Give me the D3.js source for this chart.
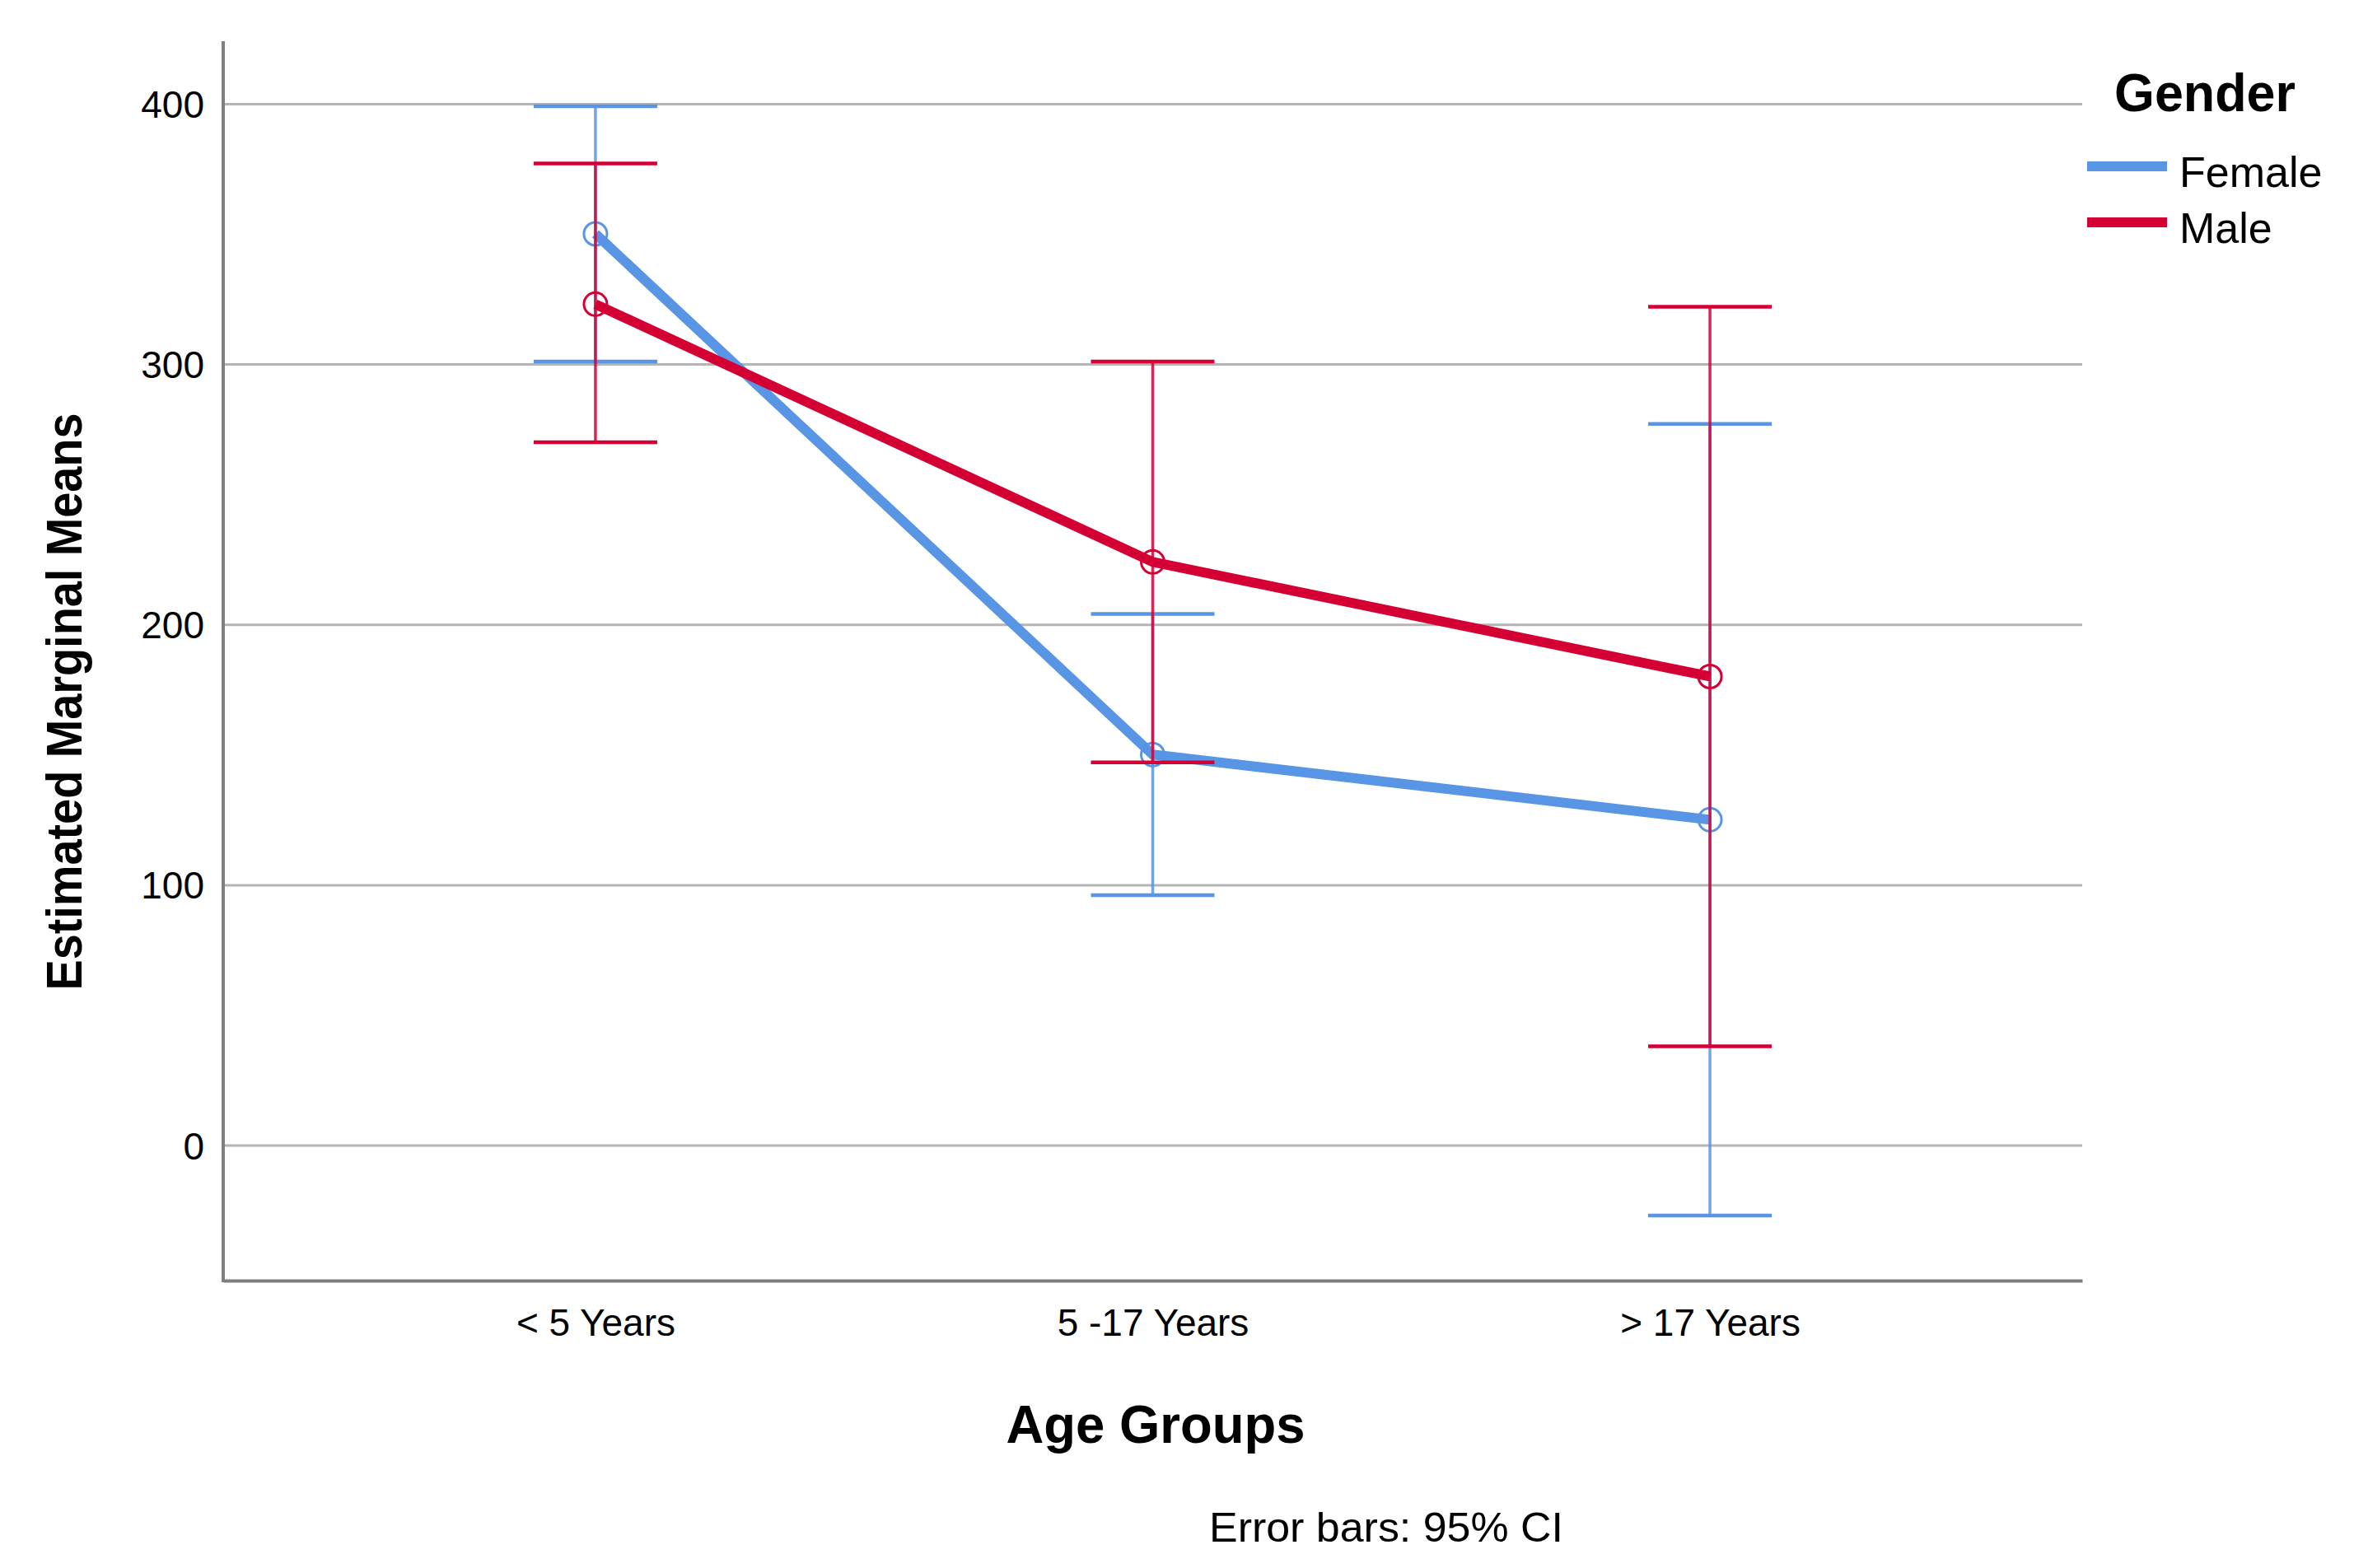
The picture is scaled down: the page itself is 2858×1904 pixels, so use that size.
<!DOCTYPE html>
<html lang="en">
<head>
    <meta charset="UTF-8">
    <title>Estimated Marginal Means</title>
    <style>
        body { margin: 0; background: #fff; }
        text { font-family: "Liberation Sans", Arial, sans-serif; fill: #000; }
    </style>
</head>
<body>
    <script src="https://cdn.jsdelivr.net/npm/d3@7"></script>
    <svg id="mysvg" width="2858" height="1904"></svg>
    <script>
        // data
        var categories = ['< 5 Years', '5 -17 Years', '> 17 Years'];
        var femaleMean = [350, 150, 125];
        var femaleLow = [301, 96, -27];
        var femaleHigh = [399, 204, 277];
        var maleMean = [323, 224, 180];
        var maleLow = [270, 147, 38];
        var maleHigh = [377, 301, 322];
        var yTicks = [0, 100, 200, 300, 400];

        var series = [
            {name: 'Female', color: '#5895e4', mean: femaleMean, low: femaleLow, high: femaleHigh},
            {name: 'Male', color: '#d40034', mean: maleMean, low: maleLow, high: maleHigh}
        ];

        // plot box (window.top is read-only, so no "top" here)
        var plotLeft = 271, plotRight = 2528, plotTop = 50, plotBottom = 1555;

        var svg = d3.select('#mysvg');

        var x = d3.scalePoint().domain(categories).range([plotLeft, plotRight]).padding(0.668);
        var y = d3.scaleLinear().domain([-52, 424]).range([plotBottom, plotTop]);

        // gridlines + y labels
        var yAxis = svg.append('g')
            .attr('transform', 'translate(' + plotLeft + ',0)')
            .call(d3.axisLeft(y).tickValues(yTicks).tickSize(-(plotRight - plotLeft)).tickPadding(23));
        yAxis.select('.domain').remove();
        yAxis.selectAll('.tick line').attr('stroke', '#b4b4b4').attr('stroke-width', 3);
        yAxis.selectAll('.tick text')
            .attr('font-size', 46)
            .attr('dy', '0.36em')
            .style('font-family', '"Liberation Sans", Arial, sans-serif');

        // x axis
        var xAxis = svg.append('g')
            .attr('transform', 'translate(0,' + plotBottom + ')')
            .call(d3.axisBottom(x).tickSize(0).tickSizeOuter(0).tickPadding(34));
        xAxis.select('.domain').attr('stroke', '#7f7f7f').attr('stroke-width', 4);
        xAxis.selectAll('.tick text')
            .attr('font-size', 46)
            .style('font-family', '"Liberation Sans", Arial, sans-serif');

        // y axis line
        svg.append('line')
            .attr('x1', plotLeft).attr('x2', plotLeft)
            .attr('y1', plotTop).attr('y2', plotBottom + 2)
            .attr('stroke', '#7f7f7f').attr('stroke-width', 4);

        var line = d3.line()
            .x(function(d, i) { return x(categories[i]); })
            .y(function(d) { return y(d); });

        var capHalf = 75;

        series.forEach(function(s) {
            var g = svg.append('g');

            // error bars
            categories.forEach(function(c, i) {
                var cx = x(c);
                g.append('line')
                    .attr('x1', cx).attr('x2', cx)
                    .attr('y1', y(s.low[i])).attr('y2', y(s.high[i]))
                    .attr('stroke', s.color).attr('stroke-width', 3.5).attr('stroke-opacity', 0.85);
                [s.low[i], s.high[i]].forEach(function(v) {
                    g.append('line')
                        .attr('x1', cx - capHalf).attr('x2', cx + capHalf)
                        .attr('y1', y(v)).attr('y2', y(v))
                        .attr('stroke', s.color).attr('stroke-width', 4.5);
                });
            });

            g.append('path')
                .datum(s.mean)
                .attr('d', line)
                .attr('fill', 'none')
                .attr('stroke', s.color)
                .attr('stroke-width', 12);

            g.selectAll('circle')
                .data(s.mean)
                .enter().append('circle')
                .attr('cx', function(d, i) { return x(categories[i]); })
                .attr('cy', function(d) { return y(d); })
                .attr('r', 14)
                .attr('fill', 'none')
                .attr('stroke', s.color)
                .attr('stroke-width', 3);
        });

        // titles
        svg.append('text')
            .attr('transform', 'translate(99,852) rotate(-90)')
            .attr('text-anchor', 'middle')
            .attr('font-size', 62)
            .attr('font-weight', 'bold')
            .attr('textLength', 701)
            .attr('lengthAdjust', 'spacingAndGlyphs')
            .text('Estimated Marginal Means');

        svg.append('text')
            .attr('x', 1403).attr('y', 1752)
            .attr('text-anchor', 'middle')
            .attr('font-size', 64)
            .attr('font-weight', 'bold')
            .attr('textLength', 363)
            .attr('lengthAdjust', 'spacingAndGlyphs')
            .text('Age Groups');

        svg.append('text')
            .attr('x', 1468).attr('y', 1872)
            .attr('font-size', 50)
            .attr('textLength', 430)
            .attr('lengthAdjust', 'spacingAndGlyphs')
            .text('Error bars: 95% CI');

        // legend
        var legend = svg.append('g');
        legend.append('text')
            .attr('x', 2567).attr('y', 135)
            .attr('font-size', 64)
            .attr('font-weight', 'bold')
            .attr('textLength', 220)
            .attr('lengthAdjust', 'spacingAndGlyphs')
            .text('Gender');

        series.forEach(function(s, i) {
            var ly = 202 + i * 68;
            legend.append('line')
                .attr('x1', 2534).attr('x2', 2631)
                .attr('y1', ly).attr('y2', ly)
                .attr('stroke', s.color).attr('stroke-width', 12);
            legend.append('text')
                .attr('x', 2646).attr('y', ly + 25)
                .attr('font-size', 52)
                .text(s.name);
        });
    </script>
</body>
</html>
